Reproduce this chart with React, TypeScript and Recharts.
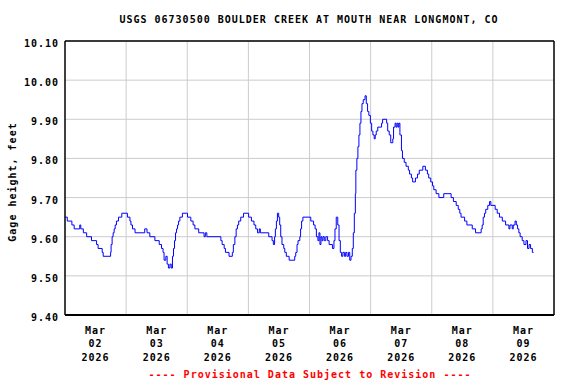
import React from "react";
import { LineChart, Line, XAxis, YAxis, CartesianGrid, ReferenceLine } from "recharts";

// Hours since Mar 02 2026 00:00 (change points of the 0.01-ft stepped record)
const hours = [
  0, 0.9, 2.7, 3.6, 5.8, 6.2, 7.2, 8.5, 10.4, 12.4, 13.0, 14.6, 15.0, 17.9, 18.1, 18.5, 18.9, 19.3, 19.7, 20.2, 21.0, 22.3,
  24.5, 25.5, 25.9, 26.5, 27.5, 31.3, 32.2, 33.3, 35.3, 37.0, 37.9, 38.5, 38.9, 39.6, 40.1, 40.6, 41.2, 41.7, 42.2, 42.6,
  43.0, 43.4, 43.8, 44.2, 44.6, 45.1, 46.1,
  48.1, 49.4, 50.3, 51.0, 52.5, 54.6, 55.1, 55.7, 61.2, 61.7, 62.5, 63.0, 64.4, 65.7, 66.1, 66.7, 67.2, 67.7, 68.2, 69.0,
  70.1, 72.1, 73.2, 74.2, 74.9, 75.6, 76.3, 76.7, 80.0, 81.3, 81.8, 82.3, 82.6, 83.0, 83.4, 83.9, 84.3, 84.7, 85.2, 85.9,
  86.3, 86.9, 88.0, 90.2, 90.6, 91.1, 91.5, 92.2, 92.5, 92.9, 93.4, 96.5,
  97.6, 98.2, 98.7, 99.3, 99.7, 100.1, 100.5, 100.9, 101.3, 101.8, 102.4, 103.1, 103.7, 105.0, 105.6, 106.0, 106.5, 107.1,
  107.6, 108.1, 108.6, 109.1, 109.7, 110.2, 110.7, 111.3, 111.8, 112.3, 112.8, 113.2, 113.6, 114.0,
  114.2, 114.6, 115.0, 115.4, 115.8, 116.2, 116.6, 117.1, 117.8, 118.3, 118.8, 119.3, 119.9, 120.4, 120.9, 121.4, 121.8,
  122.2, 122.8, 124.3, 124.7, 126.3, 126.7, 127.3, 127.9, 128.7, 129.0, 129.6, 130.0, 130.4, 130.8, 131.1, 131.5, 132.1,
  132.5, 133.2, 133.9, 134.8, 135.3, 136.0, 136.5, 137.6, 138.4, 139.1, 140.5, 141.5, 142.3, 142.8, 143.6, 144.3, 144.8,
  145.7, 146.8, 148.7, 151.6, 152.5, 153.6, 154.4, 155.0, 155.5, 156.9, 157.8, 159.9, 161.2, 163.4, 163.8, 164.2, 164.7,
  165.2, 166.0, 166.7, 167.2, 168.9, 169.7, 170.6, 171.7, 173.0, 174.3, 174.7, 175.6, 176.0, 176.7, 177.2, 177.7, 178.2,
  178.7, 179.5, 180.2, 181.0, 181.6, 182.2, 182.8, 183.5, 184.0,
];

// Gage height, feet
const gageHeight = [
  9.65, 9.64, 9.63, 9.62, 9.63, 9.62, 9.61, 9.60, 9.59, 9.58, 9.57, 9.56, 9.55, 9.56, 9.58, 9.60, 9.61, 9.62, 9.63, 9.64, 9.65, 9.66,
  9.65, 9.64, 9.63, 9.62, 9.61, 9.62, 9.61, 9.60, 9.59, 9.58, 9.57, 9.56, 9.54, 9.55, 9.53, 9.52, 9.53, 9.52, 9.55, 9.57,
  9.59, 9.61, 9.62, 9.63, 9.64, 9.65, 9.66,
  9.65, 9.64, 9.63, 9.62, 9.61, 9.60, 9.61, 9.60, 9.59, 9.58, 9.57, 9.56, 9.55, 9.56, 9.58, 9.60, 9.62, 9.63, 9.64, 9.65,
  9.66, 9.65, 9.64, 9.63, 9.62, 9.61, 9.62, 9.61, 9.60, 9.59, 9.58, 9.60, 9.62, 9.64, 9.66, 9.65, 9.63, 9.60, 9.58, 9.57,
  9.56, 9.55, 9.54, 9.55, 9.56, 9.58, 9.59, 9.60, 9.62, 9.64, 9.65, 9.64,
  9.63, 9.62, 9.60, 9.59, 9.61, 9.58, 9.60, 9.59, 9.60, 9.59, 9.60, 9.59, 9.58, 9.57, 9.59, 9.62, 9.65, 9.63,
  9.59, 9.56, 9.55, 9.56, 9.55, 9.56, 9.55, 9.56, 9.54, 9.55, 9.57, 9.61, 9.66, 9.71,
  9.77, 9.80, 9.83, 9.86, 9.89, 9.92, 9.94, 9.95, 9.96, 9.94, 9.92, 9.91, 9.89, 9.87, 9.86, 9.85, 9.86,
  9.87, 9.88, 9.89, 9.90, 9.89, 9.87, 9.86, 9.84, 9.85, 9.88, 9.89, 9.88, 9.89, 9.88, 9.89, 9.86, 9.82,
  9.80, 9.79, 9.78, 9.77, 9.76, 9.75, 9.74, 9.75, 9.76, 9.77, 9.78, 9.77, 9.76, 9.75, 9.74, 9.73, 9.72,
  9.71, 9.70, 9.71, 9.70, 9.69, 9.68, 9.67, 9.66, 9.65, 9.64, 9.63, 9.62, 9.61, 9.62, 9.63, 9.65, 9.66,
  9.67, 9.68, 9.69, 9.68, 9.67, 9.66, 9.65, 9.64, 9.63, 9.62, 9.63, 9.62, 9.63, 9.64, 9.63, 9.62, 9.61,
  9.60, 9.59, 9.58, 9.59, 9.57, 9.58, 9.57, 9.56, 9.56,
];

const yTicks = [9.4, 9.5, 9.6, 9.7, 9.8, 9.9, 10.0, 10.1];
const dayGridHours = [24, 48, 72, 96, 120, 144, 168];
const labelHours = [12, 36, 60, 84, 108, 132, 156, 180];
const monthLabel = "Mar";
const dayLabels = ["02", "03", "04", "05", "06", "07", "08", "09"];
const yearLabel = "2026";
const title = "USGS 06730500 BOULDER CREEK AT MOUTH NEAR LONGMONT, CO";
const yTitle = "Gage height, feet";
const footer = "---- Provisional Data Subject to Revision ----";

const data = hours.map((h, i) => ({ h, v: gageHeight[i] }));

const FONT = "'DejaVu Sans Mono', monospace";
const textStyle = { fontFamily: FONT, fontWeight: 700, fontSize: 10, letterSpacing: 1 } as const;

const XTick = (props: any) => {
  const { x, y, payload } = props;
  const idx = labelHours.indexOf(payload.value);
  if (idx < 0) return null;
  return (
    <g>
      <text x={x} y={y + 18.5} textAnchor="middle" fill="#000" style={textStyle}>{monthLabel}</text>
      <text x={x} y={y + 32} textAnchor="middle" fill="#000" style={textStyle}>{dayLabels[idx]}</text>
      <text x={x} y={y + 45.5} textAnchor="middle" fill="#000" style={textStyle}>{yearLabel}</text>
    </g>
  );
};

const YTick = (props: any) => {
  const { x, y, payload } = props;
  return (
    <text x={x - 6} y={y + 6} textAnchor="end" fill="#000" style={textStyle}>
      {Number(payload.value).toFixed(2)}
    </text>
  );
};

export default function App() {
  return (
    <div style={{ position: "relative", width: 576, height: 384, background: "#fff" }}>
      <style>{"body{margin:0;}"}</style>
      <LineChart
        width={576}
        height={384}
        data={data}
        margin={{ top: 41, right: 22, bottom: 39, left: 0 }}
      >
        <CartesianGrid vertical={false} stroke="#cccccc" strokeWidth={1} />
        {dayGridHours.map((h) => (
          <ReferenceLine key={h} x={h} stroke="#cccccc" strokeWidth={1} />
        ))}
        <XAxis
          dataKey="h"
          type="number"
          domain={[0, 192]}
          ticks={labelHours}
          tick={<XTick />}
          tickLine={false}
          tickSize={0}
          tickMargin={0}
          height={30}
          axisLine={{ stroke: "#000", strokeWidth: 2 }}
          interval={0}
          allowDataOverflow
        />
        <YAxis
          type="number"
          domain={[9.4, 10.1]}
          ticks={yTicks}
          tick={<YTick />}
          tickLine={false}
          tickSize={0}
          tickMargin={0}
          width={65}
          interval={0}
          axisLine={{ stroke: "#000", strokeWidth: 1.5 }}
          allowDataOverflow
        />
        <ReferenceLine y={10.1} stroke="#000" strokeWidth={1.5} />
        <ReferenceLine x={192} stroke="#000" strokeWidth={1.5} />
        <Line
          type="stepAfter"
          dataKey="v"
          stroke="#0000ff"
          strokeWidth={1}
          dot={false}
          activeDot={false}
          isAnimationActive={false}
        />
      </LineChart>
      <svg width={576} height={384} style={{ position: "absolute", left: 0, top: 0, pointerEvents: "none" }}>
        <text x={309} y={23} textAnchor="middle" fill="#000" style={textStyle}>{title}</text>
        <text transform="translate(15.5,182) rotate(-90)" textAnchor="middle" fill="#000" style={textStyle}>{yTitle}</text>
        <text x={310} y={378} textAnchor="middle" fill="#ff0000" style={textStyle}>{footer}</text>
      </svg>
    </div>
  );
}
